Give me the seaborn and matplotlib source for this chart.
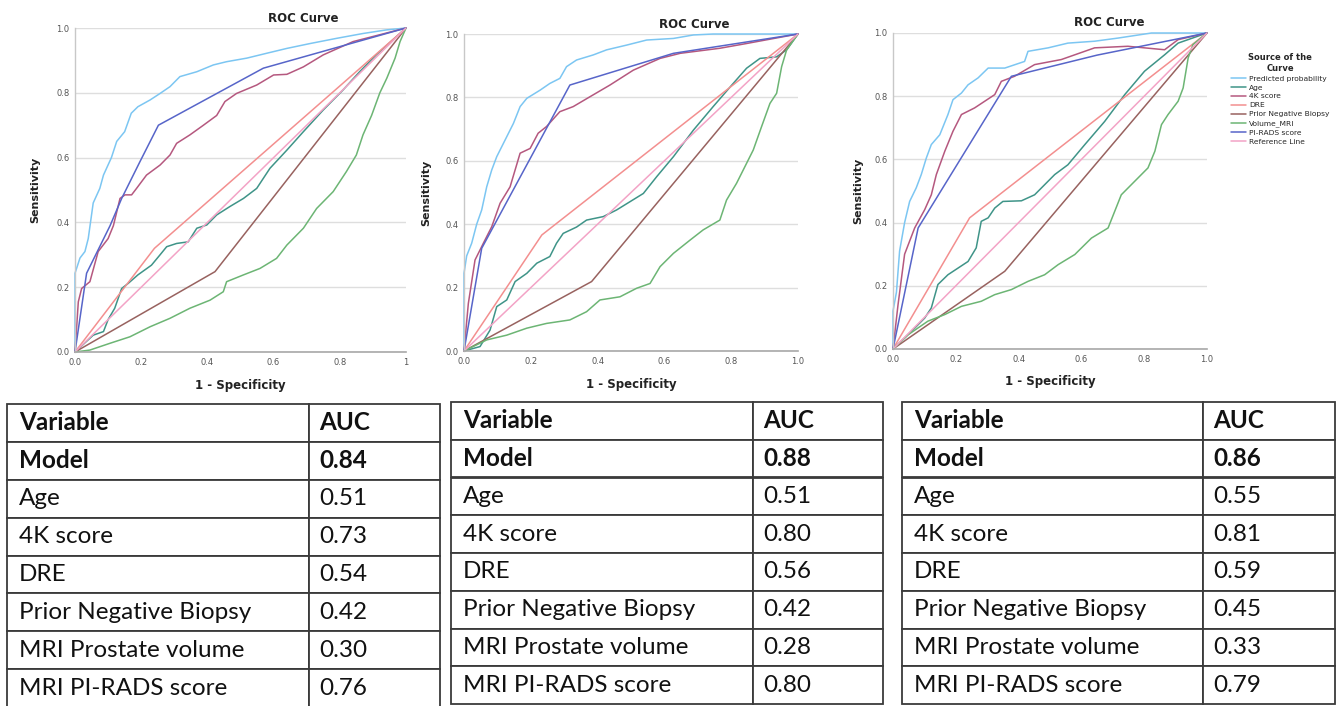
import matplotlib
matplotlib.use("Agg")
import matplotlib.pyplot as plt
import seaborn as sns
import pandas as pd

# ---------------- data ----------------
series_names = ["Predicted probability", "Age", "4K score", "DRE",
                "Prior Negative Biopsy", "Volume_MRI", "PI-RADS score", "Reference Line"]
series_colors = ["#7cc6f2", "#3f9488", "#b5587f", "#f38f8f",
                 "#98625f", "#6cb574", "#5765c9", "#f3a3c6"]

# Panel 1
pred1_x = [0, 0, 0.015, 0.03, 0.04, 0.055, 0.075, 0.086, 0.11, 0.126, 0.15, 0.17, 0.19, 0.227, 0.257, 0.287, 0.317, 0.368, 0.418, 0.458, 0.519, 0.579, 0.64, 0.71, 0.79, 0.87, 0.94, 1]
pred1_y = [0, 0.243, 0.29, 0.31, 0.35, 0.46, 0.505, 0.546, 0.6, 0.65, 0.68, 0.737, 0.757, 0.778, 0.798, 0.819, 0.85, 0.865, 0.886, 0.896, 0.907, 0.922, 0.937, 0.952, 0.968, 0.983, 0.994, 1]
age1_x = [0, 0.055, 0.086, 0.10, 0.12, 0.141, 0.161, 0.19, 0.231, 0.257, 0.277, 0.307, 0.342, 0.368, 0.398, 0.428, 0.468, 0.509, 0.549, 0.589, 0.64, 0.69, 0.75, 0.81, 0.86, 0.91, 1]
age1_y = [0, 0.052, 0.063, 0.10, 0.135, 0.196, 0.212, 0.238, 0.268, 0.30, 0.325, 0.335, 0.34, 0.382, 0.392, 0.423, 0.449, 0.474, 0.505, 0.567, 0.623, 0.68, 0.747, 0.809, 0.865, 0.917, 1]
k4_1_x = [0, 0.01, 0.02, 0.045, 0.07, 0.1, 0.116, 0.136, 0.151, 0.171, 0.186, 0.216, 0.257, 0.287, 0.307, 0.347, 0.388, 0.428, 0.453, 0.488, 0.549, 0.6, 0.64, 0.69, 0.75, 0.84, 1]
k4_1_y = [0, 0.155, 0.196, 0.217, 0.31, 0.35, 0.39, 0.474, 0.485, 0.485, 0.505, 0.546, 0.577, 0.608, 0.644, 0.67, 0.70, 0.73, 0.773, 0.798, 0.824, 0.855, 0.857, 0.88, 0.917, 0.958, 1]
dre1_x = [0, 0.24, 1]
dre1_y = [0, 0.32, 1]
prior1_x = [0, 0.423, 1]
prior1_y = [0, 0.248, 1]
vol1_x = [0, 0.045, 0.106, 0.166, 0.227, 0.287, 0.347, 0.408, 0.448, 0.458, 0.509, 0.559, 0.609, 0.64, 0.69, 0.73, 0.78, 0.82, 0.85, 0.87, 0.896, 0.921, 0.942, 0.967, 0.982, 1]
vol1_y = [0, 0.006, 0.027, 0.047, 0.078, 0.104, 0.135, 0.16, 0.186, 0.217, 0.238, 0.258, 0.289, 0.33, 0.382, 0.443, 0.495, 0.557, 0.608, 0.67, 0.73, 0.80, 0.845, 0.907, 0.958, 1]
pirads1_x = [0, 0.035, 0.106, 0.141, 0.196, 0.252, 0.569, 1]
pirads1_y = [0, 0.243, 0.39, 0.474, 0.587, 0.70, 0.876, 1]

# Panel 2
pred2_x = [0, 0, 0.008, 0.023, 0.038, 0.053, 0.068, 0.083, 0.098, 0.118, 0.148, 0.168, 0.188, 0.228, 0.257, 0.287, 0.307, 0.337, 0.387, 0.427, 0.487, 0.547, 0.627, 0.687, 0.746, 1]
pred2_y = [0, 0.245, 0.30, 0.34, 0.40, 0.445, 0.518, 0.571, 0.613, 0.655, 0.718, 0.771, 0.797, 0.823, 0.844, 0.86, 0.897, 0.918, 0.934, 0.95, 0.965, 0.981, 0.986, 0.997, 1.0, 1.0]
age2_x = [0, 0.048, 0.078, 0.098, 0.128, 0.153, 0.188, 0.218, 0.257, 0.277, 0.297, 0.337, 0.367, 0.417, 0.457, 0.497, 0.537, 0.577, 0.627, 0.687, 0.746, 0.806, 0.846, 0.886, 0.936, 0.966, 1]
age2_y = [0, 0.014, 0.066, 0.14, 0.161, 0.219, 0.245, 0.277, 0.298, 0.34, 0.371, 0.391, 0.413, 0.424, 0.445, 0.471, 0.497, 0.55, 0.613, 0.697, 0.771, 0.844, 0.892, 0.923, 0.928, 0.95, 1]
k4_2_x = [0, 0.013, 0.033, 0.058, 0.083, 0.108, 0.138, 0.168, 0.198, 0.222, 0.247, 0.287, 0.327, 0.377, 0.437, 0.507, 0.587, 0.647, 0.766, 0.846, 1]
k4_2_y = [0, 0.15, 0.287, 0.34, 0.392, 0.466, 0.518, 0.624, 0.639, 0.687, 0.708, 0.755, 0.771, 0.802, 0.839, 0.886, 0.923, 0.939, 0.955, 0.97, 1]
dre2_x = [0, 0.233, 1]
dre2_y = [0, 0.366, 1]
prior2_x = [0, 0.382, 1]
prior2_y = [0, 0.219, 1]
vol2_x = [0, 0.068, 0.128, 0.188, 0.247, 0.317, 0.367, 0.407, 0.467, 0.517, 0.557, 0.587, 0.627, 0.677, 0.716, 0.766, 0.786, 0.816, 0.846, 0.866, 0.891, 0.916, 0.936, 0.951, 0.966, 1]
vol2_y = [0, 0.035, 0.05, 0.072, 0.087, 0.098, 0.124, 0.161, 0.171, 0.198, 0.213, 0.266, 0.308, 0.35, 0.382, 0.413, 0.476, 0.529, 0.592, 0.634, 0.708, 0.781, 0.813, 0.897, 0.95, 1]
pirads2_x = [0, 0.053, 0.317, 0.627, 1]
pirads2_y = [0, 0.324, 0.839, 0.939, 1]

# Panel 3
pred3_x = [0, 0, 0.011, 0.021, 0.037, 0.053, 0.074, 0.09, 0.106, 0.122, 0.149, 0.175, 0.191, 0.218, 0.239, 0.271, 0.303, 0.356, 0.419, 0.43, 0.494, 0.557, 0.642, 0.717, 0.823, 1]
pred3_y = [0, 0.12, 0.18, 0.31, 0.40, 0.467, 0.51, 0.552, 0.604, 0.647, 0.678, 0.742, 0.789, 0.81, 0.836, 0.858, 0.889, 0.889, 0.91, 0.942, 0.953, 0.968, 0.974, 0.984, 1.0, 1.0]
age3_x = [0, 0.037, 0.069, 0.101, 0.122, 0.143, 0.175, 0.207, 0.239, 0.265, 0.281, 0.303, 0.324, 0.35, 0.409, 0.451, 0.483, 0.515, 0.557, 0.611, 0.674, 0.738, 0.801, 0.865, 0.908, 1]
age3_y = [0, 0.035, 0.066, 0.098, 0.13, 0.204, 0.235, 0.256, 0.277, 0.32, 0.404, 0.415, 0.446, 0.467, 0.469, 0.488, 0.52, 0.552, 0.583, 0.647, 0.72, 0.805, 0.879, 0.931, 0.968, 1]
k4_3_x = [0, 0.016, 0.037, 0.069, 0.101, 0.122, 0.138, 0.165, 0.191, 0.218, 0.26, 0.292, 0.324, 0.345, 0.387, 0.451, 0.536, 0.642, 0.748, 0.865, 0.908, 1]
k4_3_y = [0, 0.14, 0.30, 0.383, 0.441, 0.488, 0.552, 0.626, 0.689, 0.742, 0.763, 0.784, 0.805, 0.847, 0.863, 0.90, 0.916, 0.953, 0.958, 0.947, 0.979, 1]
dre3_x = [0, 0.244, 1]
dre3_y = [0, 0.415, 1]
prior3_x = [0, 0.356, 1]
prior3_y = [0, 0.246, 1]
vol3_x = [0, 0.048, 0.111, 0.165, 0.218, 0.281, 0.324, 0.377, 0.43, 0.483, 0.526, 0.579, 0.632, 0.685, 0.727, 0.77, 0.812, 0.834, 0.855, 0.876, 0.908, 0.924, 0.94, 0.955, 1]
vol3_y = [0, 0.045, 0.088, 0.109, 0.135, 0.151, 0.172, 0.188, 0.214, 0.235, 0.267, 0.299, 0.351, 0.383, 0.488, 0.531, 0.573, 0.626, 0.71, 0.742, 0.784, 0.826, 0.921, 0.963, 1]
pirads3_x = [0, 0.08, 0.377, 0.65, 1]
pirads3_y = [0, 0.383, 0.863, 0.93, 1]

ref_x = [0, 1]
ref_y = [0, 1]

x_tick_values = [0.0, 0.2, 0.4, 0.6, 0.8, 1.0]
x_tick_labels_1 = ["0.0", "0.2", "0.4", "0.6", "0.8", "1"]
x_tick_labels_23 = ["0.0", "0.2", "0.4", "0.6", "0.8", "1.0"]
y_tick_labels = ["0.0", "0.2", "0.4", "0.6", "0.8", "1.0"]

table_header = ["Variable", "AUC"]
table_variables = ["Model", "Age", "4K score", "DRE", "Prior Negative Biopsy",
                   "MRI Prostate volume", "MRI PI-RADS score"]
auc_panel1 = ["0.84", "0.51", "0.73", "0.54", "0.42", "0.30", "0.76"]
auc_panel2 = ["0.88", "0.51", "0.80", "0.56", "0.42", "0.28", "0.80"]
auc_panel3 = ["0.86", "0.55", "0.81", "0.59", "0.45", "0.33", "0.79"]

panels = [
    [(pred1_x, pred1_y), (age1_x, age1_y), (k4_1_x, k4_1_y), (dre1_x, dre1_y),
     (prior1_x, prior1_y), (vol1_x, vol1_y), (pirads1_x, pirads1_y), (ref_x, ref_y)],
    [(pred2_x, pred2_y), (age2_x, age2_y), (k4_2_x, k4_2_y), (dre2_x, dre2_y),
     (prior2_x, prior2_y), (vol2_x, vol2_y), (pirads2_x, pirads2_y), (ref_x, ref_y)],
    [(pred3_x, pred3_y), (age3_x, age3_y), (k4_3_x, k4_3_y), (dre3_x, dre3_y),
     (prior3_x, prior3_y), (vol3_x, vol3_y), (pirads3_x, pirads3_y), (ref_x, ref_y)],
]

# ---------------- figure ----------------
sns.set_style("white")
plt.rcParams["font.family"] = ["DejaVu Sans"]

W, H = 1341, 706
fig = plt.figure(figsize=(W / 100, H / 100), dpi=100)
fig.patch.set_facecolor("white")


def frac_box(l, t, r, b):
    return [l / W, 1 - b / H, (r - l) / W, (b - t) / H]


axes_boxes = [(75, 28, 406, 352), (464, 34, 798, 351), (893, 33, 1207, 349)]
ylabel_x = [35, 426, 858]
xlabel_y = [386, 384, 382]
xtick_sets = [x_tick_labels_1, x_tick_labels_23, x_tick_labels_23]

handles = None
for i, box in enumerate(axes_boxes):
    ax = fig.add_axes(frac_box(*box))
    for j, (xs, ys) in enumerate(panels[i]):
        df = pd.DataFrame({"x": xs, "y": ys})
        sns.lineplot(data=df, x="x", y="y", ax=ax, sort=False, estimator=None,
                     color=series_colors[j], linewidth=1.1, label=series_names[j],
                     legend=False, clip_on=False)
    ax.set_xlim(0, 1)
    ax.set_ylim(0, 1)
    ax.set_xticks(x_tick_values)
    ax.set_xticklabels(xtick_sets[i])
    ax.set_yticks(x_tick_values)
    ax.set_yticklabels(y_tick_labels)
    ax.tick_params(length=0, labelsize=6, labelcolor="#555555", pad=4)
    ax.set_xlabel("")
    ax.set_ylabel("")
    for s in ["top", "right"]:
        ax.spines[s].set_visible(False)
    ax.spines["left"].set_color("#c8c8c8")
    ax.spines["bottom"].set_color("#a8a8a8")
    ax.spines["left"].set_linewidth(1.0)
    ax.spines["bottom"].set_linewidth(1.2)
    ax.yaxis.grid(True, color="#dedede", linewidth=1.0)
    ax.xaxis.grid(False)
    ax.set_axisbelow(True)
    l, t, r, b = box
    fig.text((l + 0.69 * (r - l)) / W, 1 - (t - 10) / H, "ROC Curve",
             ha="center", va="center", fontsize=8.5, fontweight="bold", color="#222222")
    fig.text(((l + r) / 2) / W, 1 - xlabel_y[i] / H, "1 - Specificity",
             ha="center", va="center", fontsize=8.5, fontweight="bold", color="#222222")
    fig.text(ylabel_x[i] / W, 1 - ((t + b) / 2) / H, "Sensitivity", rotation=90,
             ha="center", va="center", fontsize=8, fontweight="bold", color="#222222")
    if i == 2:
        handles = ax.get_lines()

leg = fig.legend(handles=handles[:8], labels=series_names, loc="upper left",
                 bbox_to_anchor=(1226 / W, 1 - 48 / H), frameon=False,
                 fontsize=5.4, title="Source of the\nCurve", title_fontsize=6.0,
                 handlelength=2.0, handletextpad=0.35, labelspacing=0.36,
                 borderpad=0.2)
leg.get_title().set_fontweight("bold")
leg.get_title().set_multialignment("center")

# ---------------- tables ----------------
table_boxes = [(7, 404, 440, 707, 309), (451, 402, 883, 704, 753), (902, 402, 1335, 704, 1203)]
auc_sets = [auc_panel1, auc_panel2, auc_panel3]
for k, (l, t, r, b, c) in enumerate(table_boxes):
    tax = fig.add_axes(frac_box(l, t, r, b))
    tax.axis("off")
    rows = [table_header] + [[v, a] for v, a in zip(table_variables, auc_sets[k])]
    w0 = (c - l) / (r - l)
    tbl = tax.table(cellText=rows, cellLoc="left", colWidths=[w0, 1 - w0],
                    bbox=[0, 0, 1, 1])
    tbl.auto_set_font_size(False)
    for (ri, ci), cell in tbl.get_celld().items():
        cell.set_edgecolor("#3a3a3a")
        cell.set_linewidth(1.3)
        cell.set_facecolor("white")
        cw = (c - l) if ci == 0 else (r - c)
        cell.PAD = (12 if ci == 0 else 10) / cw
        txt = cell.get_text()
        txt.set_fontsize(17.5)
        txt.set_fontfamily("Lato")
        txt.set_color("#111111")
        if ri in (0, 1):
            txt.set_fontweight("bold")

fig.savefig("out.png", dpi=100, facecolor="white")
